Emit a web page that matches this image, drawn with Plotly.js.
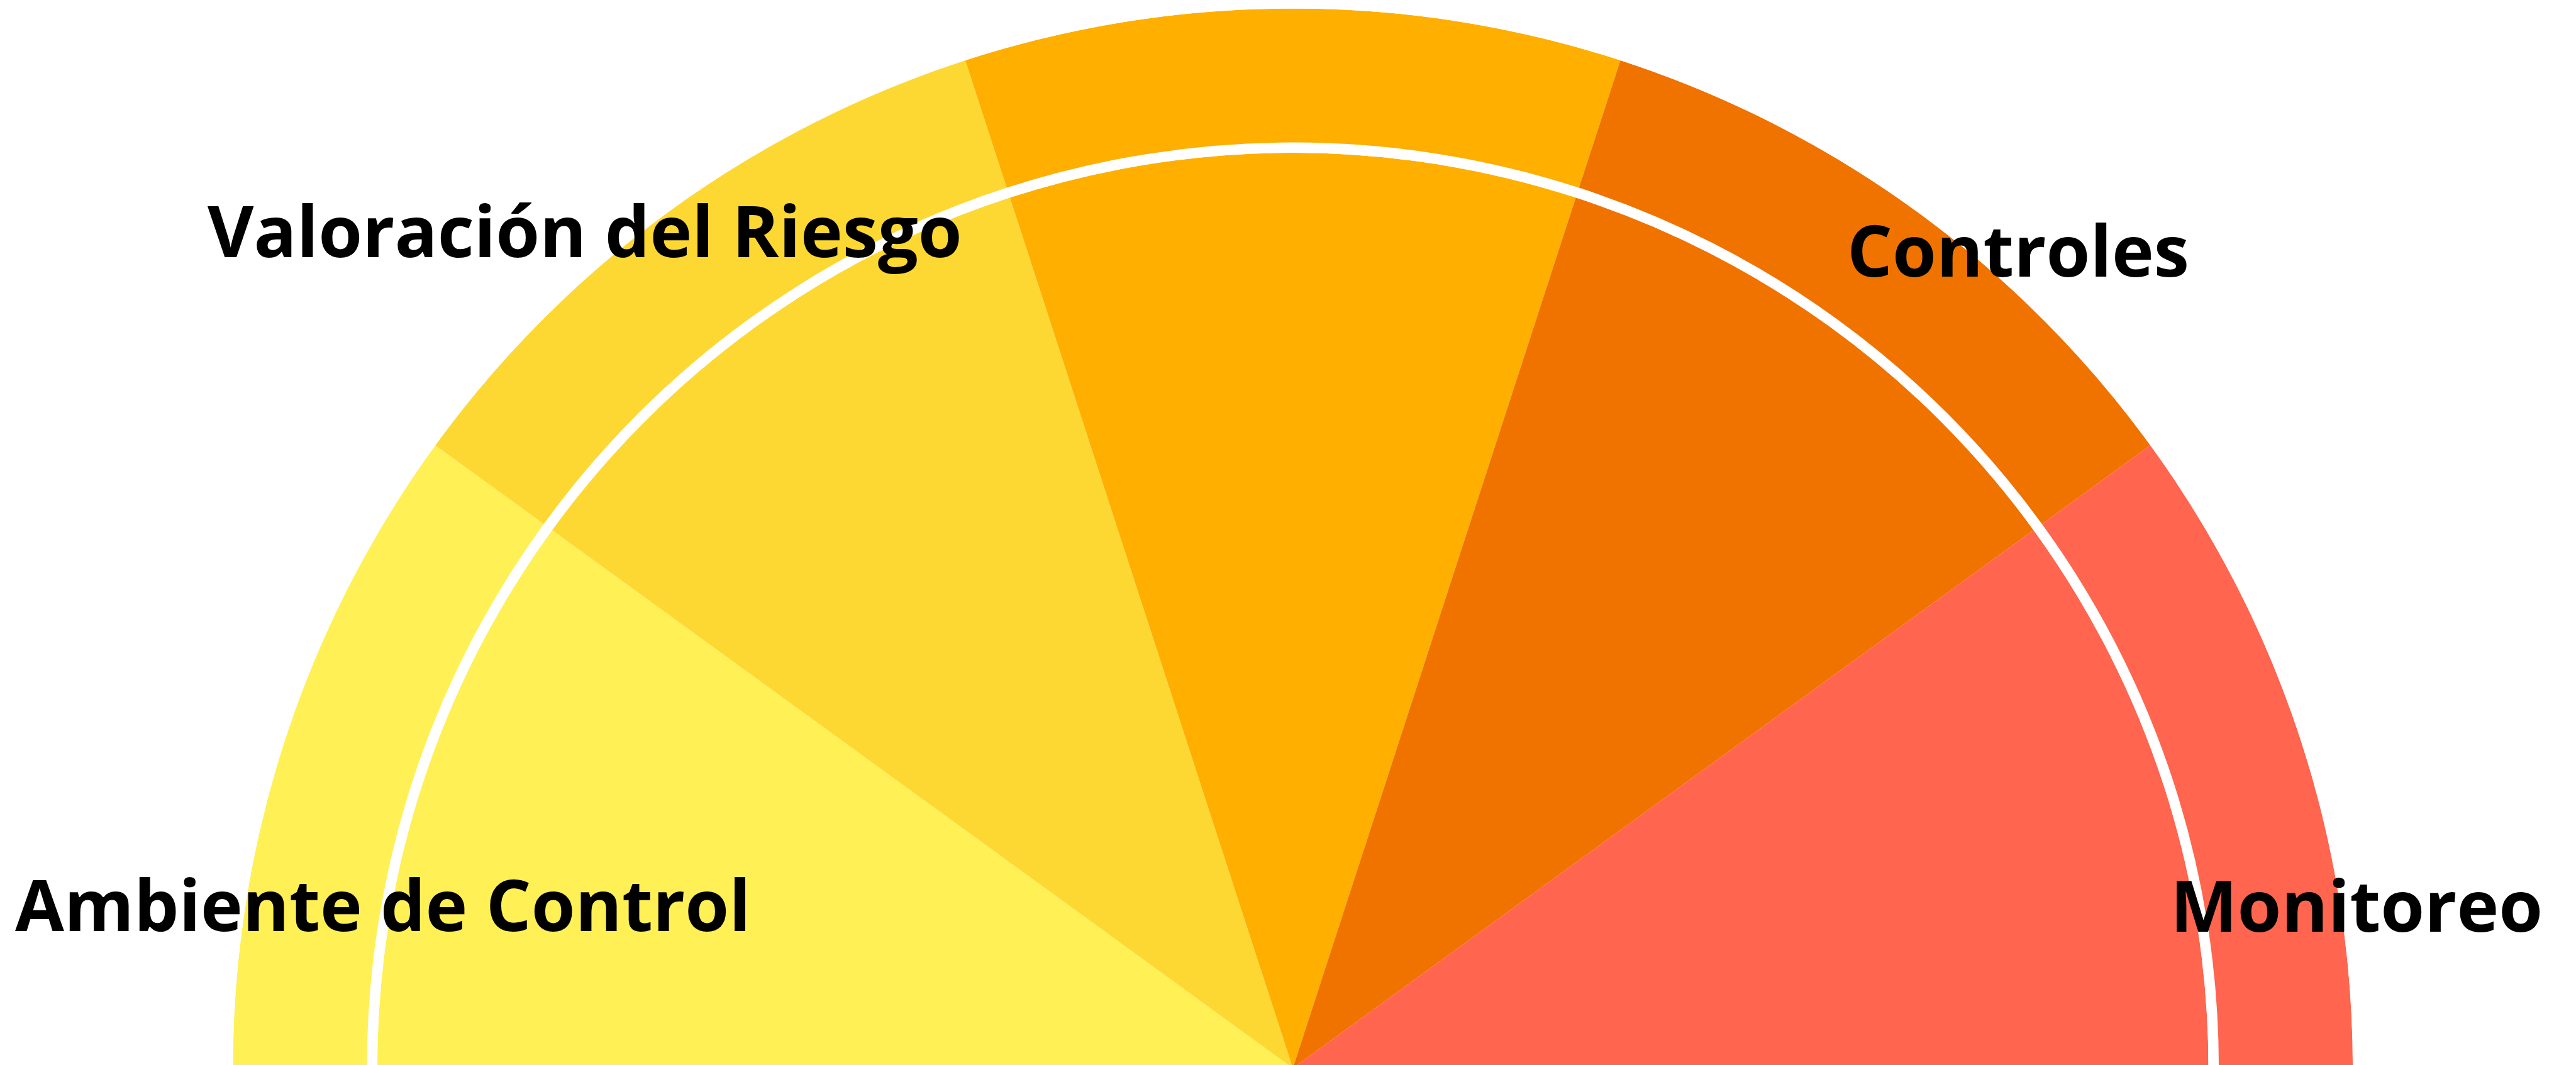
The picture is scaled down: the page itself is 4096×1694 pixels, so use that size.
<!DOCTYPE html>
<html>
<head>
<meta charset="utf-8">
<script src="https://cdn.plot.ly/plotly-3.0.1.min.js"></script>
<style>
html,body{margin:0;padding:0;overflow:hidden;background:#fff;}
#chart{width:4096px;height:1699px;}
</style>
</head>
<body>
<div id="chart"></div>
<script>
// Data
const components = ['Ambiente de Control', 'Valoración del Riesgo', '', 'Controles', 'Monitoreo'];
const angles = [162, 126, 90, 54, 18];
const spans = [36, 36, 36, 36, 36];
const fullValue = [1, 1, 1, 1, 1];
const ringLevel = 0.8687;

// Styles
const colors = ['#FFF055', '#FED832', '#FEAF00', '#F07300', '#FF654F'];
const ringWidth = 0.0098;

const innerR = fullValue.map(v => v * (ringLevel - ringWidth / 2));
const ringBase = innerR;
const ringR = fullValue.map(() => ringWidth);
const outerBase = fullValue.map(v => v * (ringLevel + ringWidth / 2));
const outerR = fullValue.map((v, i) => v - outerBase[i]);

const common = {
  type: 'barpolar',
  theta: angles,
  width: spans,
  hoverinfo: 'skip',
  showlegend: false
};

const traces = [
  Object.assign({}, common, {r: innerR, base: fullValue.map(() => 0), marker: {color: colors, line: {width: 0}}}),
  Object.assign({}, common, {r: ringR, base: ringBase, marker: {color: '#FFFFFF', line: {width: 0}}}),
  Object.assign({}, common, {r: outerR, base: outerBase, marker: {color: colors, line: {width: 0}}})
];

const labelFont = {family: '"Open Sans", Lato, sans-serif', size: 113, color: '#000000', weight: 700};
const labelPos = [
  {x: 0.1486, y: 0.1542},
  {x: 0.2270, y: 0.7849},
  null,
  {x: 0.7834, y: 0.7669},
  {x: 0.9148, y: 0.1536}
];
const annotations = [];
components.forEach((c, i) => {
  if (!c || !labelPos[i]) return;
  annotations.push({
    text: c, xref: 'paper', yref: 'paper', x: labelPos[i].x, y: labelPos[i].y,
    xanchor: 'center', yanchor: 'middle', showarrow: false, font: labelFont
  });
});

const layout = {
  width: 4096,
  height: 1699,
  margin: {l: 0, r: 0, t: 0, b: 0, pad: 0},
  paper_bgcolor: '#FFFFFF',
  plot_bgcolor: '#FFFFFF',
  showlegend: false,
  polar: {
    domain: {x: [370.3 / 4096, 3741.1 / 4096], y: [0, (1699 - 13.4) / 1699]},
    sector: [0, 180],
    bgcolor: 'rgba(0,0,0,0)',
    bargap: 0,
    hole: 0,
    radialaxis: {visible: false, range: [0, 1]},
    angularaxis: {visible: false, direction: 'counterclockwise', rotation: 0, thetaunit: 'degrees'}
  },
  annotations: annotations
};

Plotly.newPlot('chart', traces, layout, {staticPlot: true, displayModeBar: false});
</script>
</body>
</html>
